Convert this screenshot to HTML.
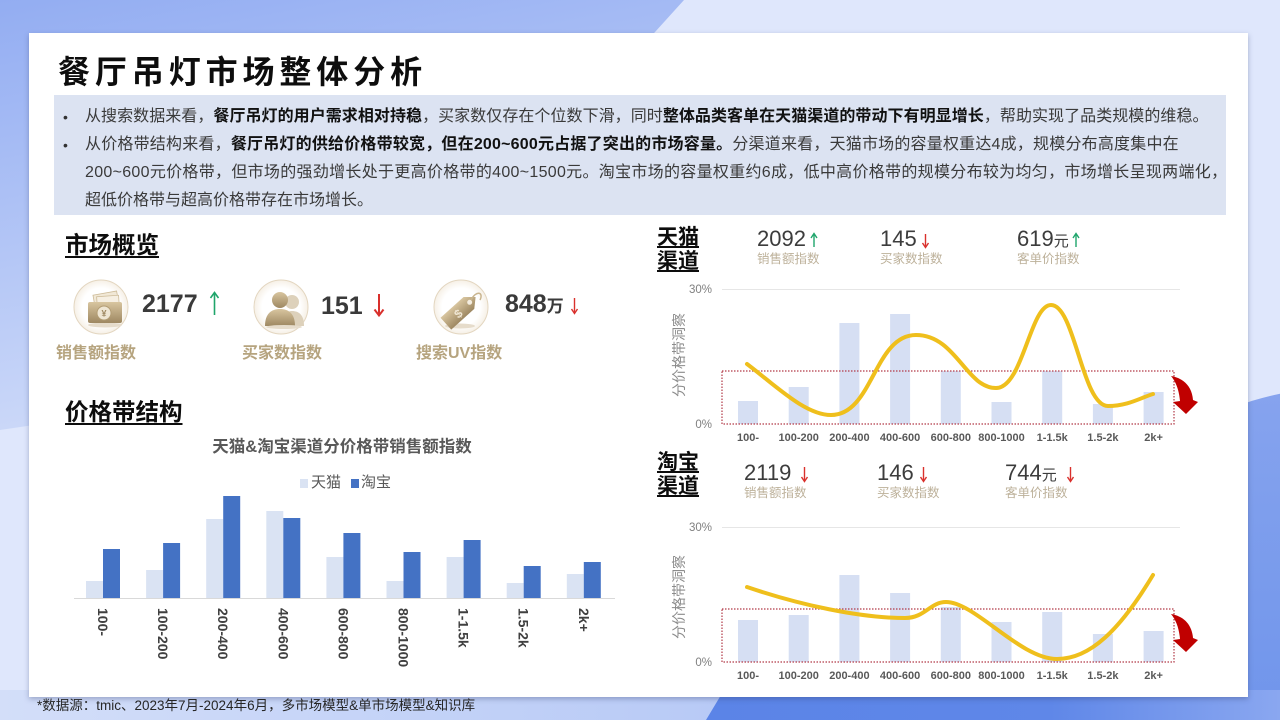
<!DOCTYPE html>
<html><head><meta charset="utf-8">
<style>
*{margin:0;padding:0;box-sizing:border-box}
html,body{width:1280px;height:720px;overflow:hidden}
body{position:relative;font-family:"Liberation Sans","Noto Sans CJK SC",sans-serif;background:#dfe7fc}
.a{position:absolute;white-space:nowrap}
.card{position:absolute;left:29px;top:33px;width:1219px;height:664px;background:#fff;box-shadow:0 2px 5px rgba(50,60,110,.35)}
.title{left:58px;top:54px;font-size:32px;line-height:36px;font-weight:bold;letter-spacing:4.9px;color:#0d0d0d}
.sum{left:54px;top:95px;width:1172px;height:120px;background:#dce3f2}
.ln{font-size:16px;line-height:28px;color:#3a3a3a;left:85px}
.ln b{color:#111}
.bul{font-size:14px;line-height:28px;color:#333;left:63px}
.h2{font-size:23.5px;line-height:28px;font-weight:bold;color:#0d0d0d;text-decoration:underline;text-decoration-thickness:2px;text-underline-offset:3px}
.num{font-size:25px;line-height:28px;font-weight:bold;color:#3a3a3a}
.lab{font-size:16px;line-height:20px;font-weight:bold;color:#b6a47f}
.ch{font-size:21px;line-height:24px;font-weight:bold;color:#0d0d0d;text-decoration:underline;text-decoration-thickness:2px;text-underline-offset:2px}
.rn{font-size:22px;line-height:24px;color:#3c3c3c}
.rl{font-size:12.5px;line-height:14px;color:#bdb19a}
.foot{left:37px;top:697px;font-size:13.5px;line-height:18px;color:#262626}
</style></head><body>
<svg class="a" style="left:0;top:0" width="1280" height="720">
<defs>
<linearGradient id="tl" x1="0" y1="0" x2="0.3" y2="1">
<stop offset="0" stop-color="#93adf2"/><stop offset="1" stop-color="#cfdbf9"/>
</linearGradient>
<linearGradient id="bl" x1="0" y1="0" x2="1" y2="0">
<stop offset="0" stop-color="#d3def9"/><stop offset="1" stop-color="#b8caf6"/>
</linearGradient>
<linearGradient id="br" x1="0" y1="0" x2="1" y2="0">
<stop offset="0" stop-color="#5b84e7"/><stop offset="0.6" stop-color="#5f87e8"/><stop offset="1" stop-color="#8aa7f0"/>
</linearGradient>
<linearGradient id="bc" x1="0" y1="0" x2="0" y2="1">
<stop offset="0" stop-color="#86a3ee"/><stop offset="1" stop-color="#7095eb"/>
</linearGradient>
<linearGradient id="tan" x1="0" y1="0" x2="0" y2="1">
<stop offset="0" stop-color="#d8c59f"/><stop offset="1" stop-color="#9e8862"/>
</linearGradient>
<radialGradient id="cf" cx="0.5" cy="0.5" r="0.5">
<stop offset="0.7" stop-color="#ffffff"/><stop offset="1" stop-color="#f6f0e6"/>
</radialGradient>
</defs>
<rect width="1280" height="720" fill="#dfe7fc"/>
<polygon points="0,0 684,0 340,380 0,430" fill="url(#tl)"/>
<rect x="0" y="690" width="720" height="30" fill="url(#bl)"/>
<path d="M1027.4,720 A318,318 0 0 1 1280,393.7 L1280,720 Z" fill="url(#bc)"/>
<polygon points="724,690 1280,690 1280,720 706,720" fill="url(#br)"/>
</svg>

<div class="card"></div>

<div class="a title">餐厅吊灯市场整体分析</div>
<div class="a sum"></div>
<div class="a bul" style="top:103px">•</div>
<div class="a bul" style="top:131px">•</div>
<div class="a ln" style="top:103px;letter-spacing:0.05px">从搜索数据来看，<b>餐厅吊灯的用户需求相对持稳</b>，买家数仅存在个位数下滑，同时<b>整体品类客单在天猫渠道的带动下有明显增长</b>，帮助实现了品类规模的维稳。</div>
<div class="a ln" style="top:131px;letter-spacing:0.2px">从价格带结构来看，<b>餐厅吊灯的供给价格带较宽，但在200~600元占据了突出的市场容量。</b>分渠道来看，天猫市场的容量权重达4成，规模分布高度集中在</div>
<div class="a ln" style="top:159px;letter-spacing:0.3px">200~600元价格带，但市场的强劲增长处于更高价格带的400~1500元。淘宝市场的容量权重约6成，低中高价格带的规模分布较为均匀，市场增长呈现两端化，</div>
<div class="a ln" style="top:187px">超低价格带与超高价格带存在市场增长。</div>

<div class="a h2" style="left:65px;top:231px">市场概览</div>

<svg class="a" style="left:0;top:0" width="640" height="400">
<circle cx="101" cy="307" r="27" fill="url(#cf)" stroke="#e3d6c0" stroke-width="1"/>
<circle cx="281" cy="307" r="27" fill="url(#cf)" stroke="#e3d6c0" stroke-width="1"/>
<circle cx="461" cy="307" r="27" fill="url(#cf)" stroke="#e3d6c0" stroke-width="1"/>
<ellipse cx="105" cy="325" rx="17" ry="2.5" fill="#e6dccb"/>
<rect x="94" y="293" width="24" height="14" fill="#f1e8d6" stroke="#cdbb98" stroke-width="0.8" transform="rotate(-10 106 300)"/>
<rect x="97" y="296" width="22" height="12" fill="#f6efe2" stroke="#cdbb98" stroke-width="0.8" transform="rotate(-4 108 302)"/>
<rect x="88" y="302" width="34" height="21" rx="2" fill="url(#tan)"/>
<circle cx="104" cy="313" r="7" fill="#efe6d3" stroke="#b39d74" stroke-width="1"/>
<text x="104" y="316.5" font-size="9" font-weight="bold" text-anchor="middle" fill="#a08a63" font-family="Liberation Sans,DejaVu Sans,sans-serif">¥</text>
<circle cx="292" cy="302" r="7" fill="#ddd1bb"/>
<path d="M281,326 C281,315 286,311 292,311 C299,311 304,315 304,326 Z" fill="#ddd1bb"/>
<circle cx="280" cy="300" r="8" fill="url(#tan)"/>
<path d="M265,326 C265,314 271,309 280,309 C289,309 295,314 295,326 Z" fill="url(#tan)"/>
<ellipse cx="284" cy="327" rx="18" ry="2" fill="#e6dccb"/>
<ellipse cx="460" cy="326" rx="15" ry="2.5" fill="#e6dccb"/>
<g transform="rotate(-42 460 311)">
<path d="M441,303 L472,303 L481,311 L472,319 L441,319 Z" fill="url(#tan)"/>
<circle cx="473" cy="311" r="2.5" fill="#f4ede0"/>
<text x="457" y="316" font-size="12" font-weight="bold" text-anchor="middle" fill="#efe6d3" font-family="Liberation Sans,sans-serif">$</text>
</g>
<path d="M471,300 C476,290 484,292 480,300" fill="none" stroke="#c9b58f" stroke-width="1.5"/>
<g stroke="#1fa56b" stroke-width="1.6" fill="none"><line x1="214.5" y1="315" x2="214.5" y2="293"/><polyline points="210.5,298 214.5,292.5 218.5,298"/></g>
<g stroke="#d9302c" stroke-width="2" fill="none"><line x1="379" y1="294" x2="379" y2="315"/><polyline points="374.5,309.5 379,315.5 383.5,309.5"/></g>
<g stroke="#d9302c" stroke-width="1.4" fill="none"><line x1="574.5" y1="298" x2="574.5" y2="313"/><polyline points="571.5,309 574.5,313.5 577.5,309"/></g>
</svg>

<div class="a num" style="left:142px;top:290px">2177</div>
<div class="a num" style="left:321px;top:292px">151</div>
<div class="a num" style="left:505px;top:290px">848<span style="font-size:17px">万</span></div>
<div class="a lab" style="left:56px;top:344px">销售额指数</div>
<div class="a lab" style="left:242px;top:344px">买家数指数</div>
<div class="a lab" style="left:416px;top:344px">搜索UV指数</div>

<div class="a h2" style="left:65px;top:398px">价格带结构</div>
<div class="a" style="left:142px;top:436px;width:400px;text-align:center;font-size:16.5px;line-height:22px;font-weight:bold;color:#595959">天猫&amp;淘宝渠道分价格带销售额指数</div>
<div class="a" style="left:300px;top:479px;width:8px;height:9px;background:#dae3f3"></div>
<div class="a" style="left:311px;top:473px;font-size:15px;line-height:20px;color:#595959">天猫</div>
<div class="a" style="left:351px;top:479px;width:8px;height:9px;background:#4472c4"></div>
<div class="a" style="left:361px;top:473px;font-size:15px;line-height:20px;color:#595959">淘宝</div>

<svg class="a" style="left:0;top:0" width="640" height="700" font-family="Liberation Sans,Noto Sans CJK SC,sans-serif">
<g fill="#dae3f3">
<rect x="86" y="581" width="17" height="17"/>
<rect x="146.1" y="570" width="17" height="28"/>
<rect x="206.2" y="519" width="17" height="79"/>
<rect x="266.3" y="511" width="17" height="87"/>
<rect x="326.4" y="557" width="17" height="41"/>
<rect x="386.5" y="581" width="17" height="17"/>
<rect x="446.6" y="557" width="17" height="41"/>
<rect x="506.7" y="583" width="17" height="15"/>
<rect x="566.8" y="574" width="17" height="24"/>
</g>
<g fill="#4472c4">
<rect x="103" y="549" width="17" height="49"/>
<rect x="163.1" y="543" width="17" height="55"/>
<rect x="223.2" y="496" width="17" height="102"/>
<rect x="283.3" y="518" width="17" height="80"/>
<rect x="343.4" y="533" width="17" height="65"/>
<rect x="403.5" y="552" width="17" height="46"/>
<rect x="463.6" y="540" width="17" height="58"/>
<rect x="523.7" y="566" width="17" height="32"/>
<rect x="583.8" y="562" width="17" height="36"/>
</g>
<line x1="74" y1="598.5" x2="615" y2="598.5" stroke="#d9d9d9" stroke-width="1"/>
<g font-size="14" font-weight="bold" fill="#404040">
<text transform="translate(98,608) rotate(90)">100-</text>
<text transform="translate(158.1,608) rotate(90)">100-200</text>
<text transform="translate(218.2,608) rotate(90)">200-400</text>
<text transform="translate(278.3,608) rotate(90)">400-600</text>
<text transform="translate(338.4,608) rotate(90)">600-800</text>
<text transform="translate(398.5,608) rotate(90)">800-1000</text>
<text transform="translate(458.6,608) rotate(90)">1-1.5k</text>
<text transform="translate(518.7,608) rotate(90)">1.5-2k</text>
<text transform="translate(578.8,608) rotate(90)">2k+</text>
</g>
</svg>

<div class="a ch" style="left:657px;top:226px">天猫</div>
<div class="a ch" style="left:657px;top:250px">渠道</div>
<div class="a rn" style="left:757px;top:227px">2092</div>
<div class="a rn" style="left:880px;top:227px">145</div>
<div class="a rn" style="left:1017px;top:227px">619<span style="font-size:15px">元</span></div>
<div class="a rl" style="left:757px;top:252px">销售额指数</div>
<div class="a rl" style="left:880px;top:252px">买家数指数</div>
<div class="a rl" style="left:1017px;top:252px">客单价指数</div>

<div class="a ch" style="left:657px;top:451px">淘宝</div>
<div class="a ch" style="left:657px;top:475px">渠道</div>
<div class="a rn" style="left:744px;top:461px">2119</div>
<div class="a rn" style="left:877px;top:461px">146</div>
<div class="a rn" style="left:1005px;top:461px">744<span style="font-size:15px">元</span></div>
<div class="a rl" style="left:744px;top:486px">销售额指数</div>
<div class="a rl" style="left:877px;top:486px">买家数指数</div>
<div class="a rl" style="left:1005px;top:486px">客单价指数</div>

<svg class="a" style="left:0;top:0" width="1280" height="720" font-family="Liberation Sans,Noto Sans CJK SC,sans-serif">
<g stroke="#1fa56b" stroke-width="1.4" fill="none"><line x1="814" y1="247" x2="814" y2="234"/><polyline points="811,238 814,233.5 817,238"/></g>
<g stroke="#d9302c" stroke-width="1.4" fill="none"><line x1="925.5" y1="234" x2="925.5" y2="247"/><polyline points="922.5,243 925.5,247.5 928.5,243"/></g>
<g stroke="#1fa56b" stroke-width="1.4" fill="none"><line x1="1076" y1="247" x2="1076" y2="234"/><polyline points="1073,238 1076,233.5 1079,238"/></g>
<g stroke="#d9302c" stroke-width="1.4" fill="none"><line x1="804.5" y1="467" x2="804.5" y2="481"/><polyline points="801.5,477 804.5,481.5 807.5,477"/></g>
<g stroke="#d9302c" stroke-width="1.4" fill="none"><line x1="923.5" y1="467" x2="923.5" y2="481"/><polyline points="920.5,477 923.5,481.5 926.5,477"/></g>
<g stroke="#d9302c" stroke-width="1.4" fill="none"><line x1="1070.5" y1="467" x2="1070.5" y2="481"/><polyline points="1067.5,477 1070.5,481.5 1073.5,477"/></g>

<line x1="722" y1="289.5" x2="1180" y2="289.5" stroke="#e6e6e6" stroke-width="1"/>
<text x="712" y="293" font-size="11.5" fill="#808080" text-anchor="end">30%</text>
<text x="712" y="428" font-size="11.5" fill="#808080" text-anchor="end">0%</text>
<text x="679" y="355" font-size="14" fill="#8c8c8c" text-anchor="middle" dominant-baseline="central" transform="rotate(-90 679 355)" font-family="Noto Sans CJK SC,sans-serif">分价格带洞察</text>
<g fill="#d6dff3">
<rect x="738" y="401" width="20" height="23"/>
<rect x="788.7" y="387" width="20" height="37"/>
<rect x="839.4" y="323" width="20" height="101"/>
<rect x="890.1" y="314" width="20" height="110"/>
<rect x="940.8" y="371" width="20" height="53"/>
<rect x="991.5" y="402" width="20" height="22"/>
<rect x="1042.2" y="371" width="20" height="53"/>
<rect x="1092.9" y="404" width="20" height="20"/>
<rect x="1143.6" y="392" width="20" height="32"/>
</g>
<rect x="722" y="371" width="452" height="53" fill="none" stroke="#b23a48" stroke-width="1.2" stroke-dasharray="1.5 1.5"/>
<path d="M747,364 C775,385 805,415 831,415 C873,415 874,335 916,335 C956,335 966,388 996,388 C1023,388 1030,305 1051,305 C1075,305 1082,406 1108,406 C1128,406 1140,398 1153,394" fill="none" stroke="#efbf1c" stroke-width="4" stroke-linecap="round"/>
<path d="M1171,376 C1183,378 1192,386 1193,400 L1198,402 L1186,414 L1173,402 L1180,401 C1179,390 1176,382 1171,376 Z" fill="#c00000"/>
<g font-size="11" font-weight="bold" fill="#595959" text-anchor="middle">
<text x="748" y="441">100-</text>
<text x="798.7" y="441">100-200</text>
<text x="849.4" y="441">200-400</text>
<text x="900.1" y="441">400-600</text>
<text x="950.8" y="441">600-800</text>
<text x="1001.5" y="441">800-1000</text>
<text x="1052.2" y="441">1-1.5k</text>
<text x="1102.9" y="441">1.5-2k</text>
<text x="1153.6" y="441">2k+</text>
</g>

<line x1="722" y1="527.5" x2="1180" y2="527.5" stroke="#e6e6e6" stroke-width="1"/>
<text x="712" y="531" font-size="11.5" fill="#808080" text-anchor="end">30%</text>
<text x="712" y="666" font-size="11.5" fill="#808080" text-anchor="end">0%</text>
<text x="679" y="597" font-size="14" fill="#8c8c8c" text-anchor="middle" dominant-baseline="central" transform="rotate(-90 679 597)" font-family="Noto Sans CJK SC,sans-serif">分价格带洞察</text>
<g fill="#d6dff3">
<rect x="738" y="620" width="20" height="42"/>
<rect x="788.7" y="615" width="20" height="47"/>
<rect x="839.4" y="575" width="20" height="87"/>
<rect x="890.1" y="593" width="20" height="69"/>
<rect x="940.8" y="607" width="20" height="55"/>
<rect x="991.5" y="622" width="20" height="40"/>
<rect x="1042.2" y="612" width="20" height="50"/>
<rect x="1092.9" y="634" width="20" height="28"/>
<rect x="1143.6" y="631" width="20" height="31"/>
</g>
<rect x="722" y="609" width="452" height="53" fill="none" stroke="#b23a48" stroke-width="1.2" stroke-dasharray="1.5 1.5"/>
<path d="M747,587 C800,605 860,618 905,618 C925,618 930,602 946,602 C975,602 1020,659 1057,659 C1090,659 1120,630 1153,575" fill="none" stroke="#efbf1c" stroke-width="4" stroke-linecap="round"/>
<path d="M1171,614 C1183,616 1192,624 1193,638 L1198,640 L1186,652 L1173,640 L1180,639 C1179,628 1176,620 1171,614 Z" fill="#c00000"/>
<g font-size="11" font-weight="bold" fill="#595959" text-anchor="middle">
<text x="748" y="679">100-</text>
<text x="798.7" y="679">100-200</text>
<text x="849.4" y="679">200-400</text>
<text x="900.1" y="679">400-600</text>
<text x="950.8" y="679">600-800</text>
<text x="1001.5" y="679">800-1000</text>
<text x="1052.2" y="679">1-1.5k</text>
<text x="1102.9" y="679">1.5-2k</text>
<text x="1153.6" y="679">2k+</text>
</g>
</svg>

<div class="a foot">*数据源：tmic、2023年7月-2024年6月，多市场模型&amp;单市场模型&amp;知识库</div>
</body></html>
